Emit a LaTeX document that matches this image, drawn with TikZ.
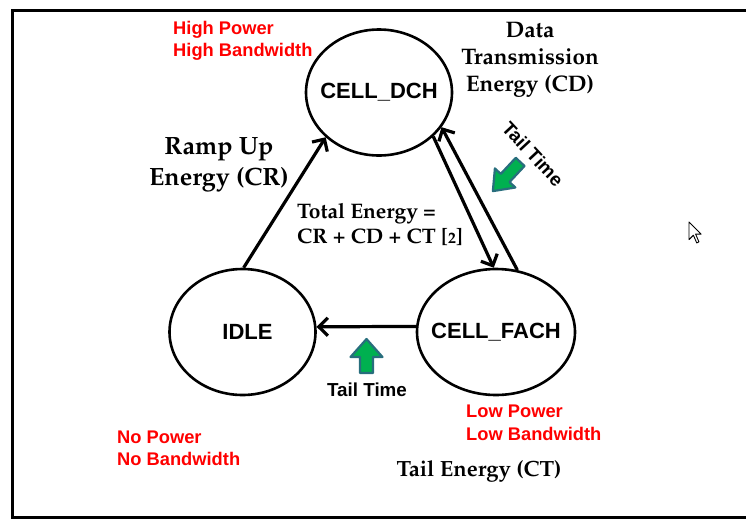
\documentclass[tikz,border=0pt]{standalone}
\usepackage[T1]{fontenc}
\usepackage{fontspec}
\setsansfont{Liberation Sans}
\usetikzlibrary{arrows.meta,shapes.geometric}
% bold Palatino-like serif (URW Palladio, Type 1) and bold Arial-like sans
\newcommand\palb[2]{\fontencoding{T1}\fontfamily{ppl}\fontseries{b}\fontshape{n}\fontsize{#1}{#2}\selectfont}
\newcommand\arialb[2]{\sffamily\bfseries\fontsize{#1}{#2}\selectfont}
\newcommand\statetext[1]{\makebox[0pt]{#1}}
\definecolor{redtxt}{RGB}{255,0,0}
\definecolor{arrowgreen}{RGB}{0,176,80}
\definecolor{arrowteal}{RGB}{40,110,125}
\begin{document}
\begin{tikzpicture}[x=1pt,y=-1pt,
  state/.style={ellipse, draw, line width=2.6pt, inner sep=0pt,
    minimum width=146pt, minimum height=126pt, font=\arialb{22}{26}},
  link/.style={line width=3.2pt, -{Straight Barb[length=9pt,width=18pt]}},
  redlbl/.style={text=redtxt, font=\arialb{18.3}{22}, align=left, inner sep=0pt},
  blacklbl/.style={font=\arialb{18.8}{22}, inner sep=0pt},
  serif/.style={inner sep=0pt},
  greenarrow/.style={fill=arrowgreen, draw=arrowteal, line width=2.2pt, line join=round}]
\useasboundingbox (0,0) rectangle (746,520);
\begin{scope}
\clip (0,0) rectangle (746,520);
\draw[line width=3pt] (12,10) rectangle (780,517);
\end{scope}

% states
\node[state] (dch) at (379,92.5) {\statetext{CELL\_DCH}};
\node[state] (idle) at (242.5,332) {\statetext{\kern10pt IDLE}};
\node[state, minimum width=158pt] (fach) at (496,332) {\statetext{CELL\_FACH}};

% transitions
\draw[link] (idle.89) -- (dch.-140);
\draw[link] (dch.-39) -- (fach.92);
\draw[link] (fach.71) -- (dch.-29);
\draw[link] (fach.176) -- (idle.4);

% energy labels (anchored at the baseline of their last line)
\node[serif, anchor=base, align=center, font=\palb{22.5}{27}] (cd) at (530,91)
  {Data\\Transmission\\Energy (CD)};
\node[serif, anchor=base, align=center, font=\palb{25}{31}] (cr) at (219,185)
  {Ramp Up\\Energy (CR)};
\node[serif, anchor=base west, align=left, font=\palb{21}{25}] (tot) at (297,243)
  {Total Energy =\\CR + CD + CT [{\scalebox{0.75}{2}}]};
\node[serif, anchor=base, font=\palb{22}{24}] (ct) at (479,476) {Tail Energy (CT)};

% power / bandwidth labels
\node[redlbl, anchor=base west] (hp) at (173,56) {High Power\\High Bandwidth};
\node[redlbl, anchor=base west] (np) at (117,465) {No Power\\No Bandwidth};
\node[redlbl, anchor=base west, font=\arialb{18.3}{23}] (lp) at (466,440) {Low Power\\Low Bandwidth};

% tail time labels and markers
\node[blacklbl, anchor=base] (tt1) at (367,396) {Tail Time};
\node[blacklbl, rotate=-47] (tt2) at (533,154) {Tail Time};
\begin{scope}[shift={(366.5,356)}]
\draw[greenarrow] (0,-17) -- (16,1) -- (6.5,1) -- (6.5,17) -- (-6.5,17) -- (-6.5,1) -- (-16,1) -- cycle;
\end{scope}
\begin{scope}[shift={(506.5,176.5)}, rotate=137]
\draw[greenarrow] (0,-20) -- (14,-2) -- (6,-2) -- (6,20) -- (-6,20) -- (-6,-2) -- (-14,-2) -- cycle;
\end{scope}

% mouse pointer
\begin{scope}[shift={(689,222)}, scale=1.1]
\draw[fill=white, line width=0.9pt, line join=round]
  (0,0) -- (0,16) -- (4,12) -- (7,19) -- (9,18) -- (6,11) -- (11,11) -- cycle;
\end{scope}
\end{tikzpicture}
\end{document}
